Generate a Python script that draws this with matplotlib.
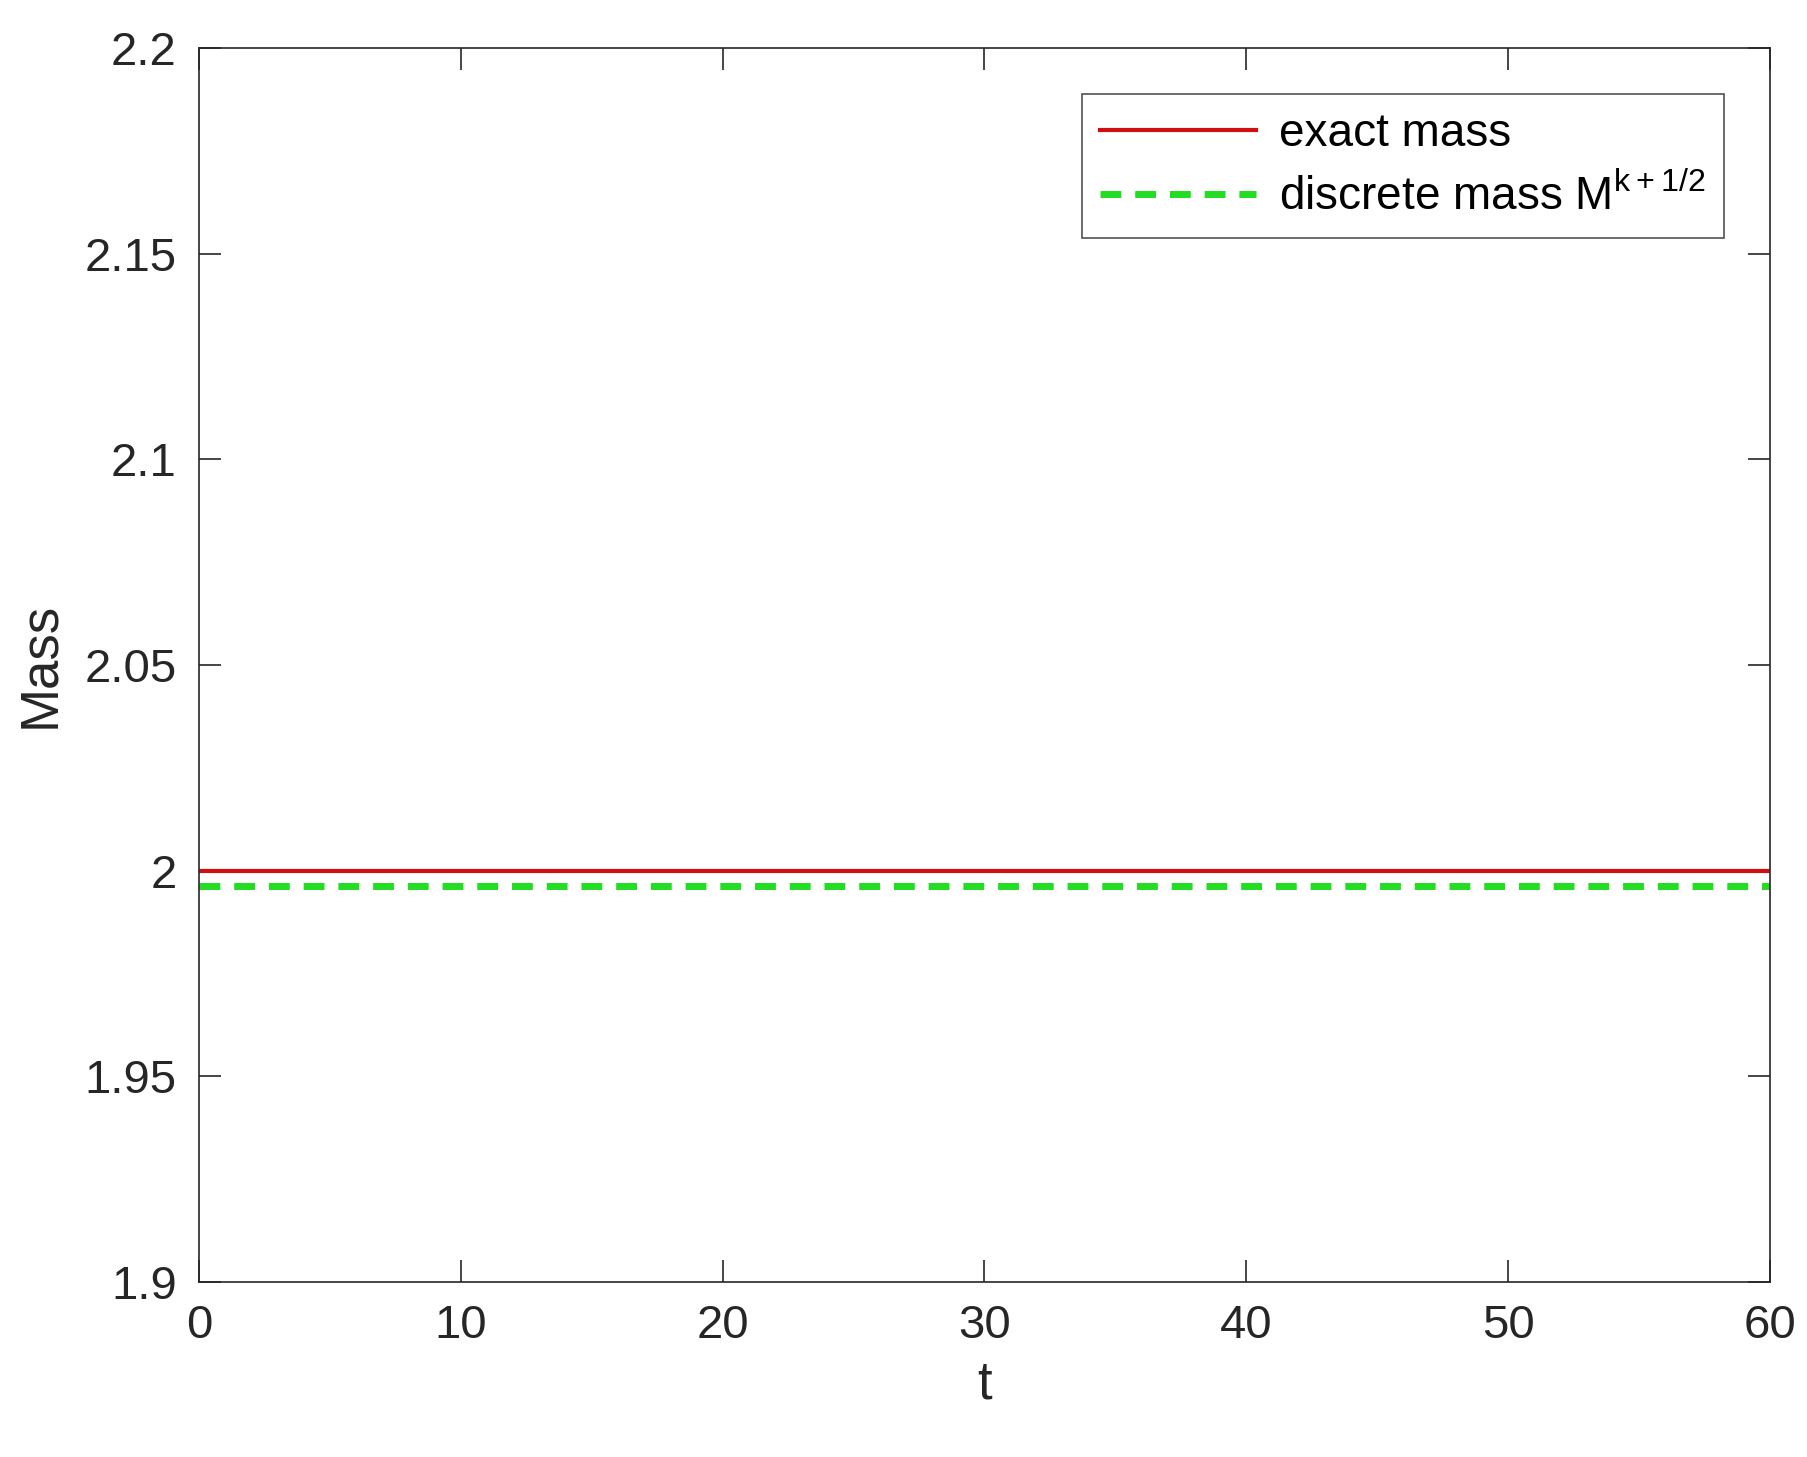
import matplotlib.pyplot as plt

plt.rcParams['font.family'] = ['Liberation Sans', 'DejaVu Sans']

t = [0, 60]
exact_mass = [2.0, 2.0]
discrete_mass = [1.9962, 1.9962]

fig = plt.figure(figsize=(18.08, 14.57), dpi=100)
ax = fig.add_axes([0.110, 0.120, 0.869, 0.847])

ax.plot(t, exact_mass, color='#d01010', lw=3, label='exact mass')
ax.plot(t, discrete_mass, color='#22dd22', lw=5, ls=(0, (3, 2)), label='discrete mass M$^{\\mathregular{k+1/2}}$')

ax.set_xlim(0, 60)
ax.set_ylim(1.9, 2.2)
ax.set_xticks(range(0, 61, 10))
ax.set_yticks([1.9, 1.95, 2.0, 2.05, 2.1, 2.15, 2.2])
ax.set_yticklabels(['1.9', '1.95', '2', '2.05', '2.1', '2.15', '2.2'])
ax.tick_params(labelsize=34, direction='in', length=16, width=1.2, top=True, right=True, colors='#262626', pad=16)
for s in ax.spines.values():
    s.set_linewidth(1.2)
    s.set_color('#262626')
ax.set_xlabel('t', fontsize=38, color='#262626', labelpad=8)
ax.set_ylabel('Mass', fontsize=38, color='#262626', labelpad=14)

leg = ax.legend(loc='upper right', fontsize=33, fancybox=False, edgecolor='#262626',
                handlelength=3.4, borderaxespad=1.0, labelspacing=0.4, handletextpad=0.5)
leg.get_frame().set_linewidth(1.2)

fig.savefig('out.png')
